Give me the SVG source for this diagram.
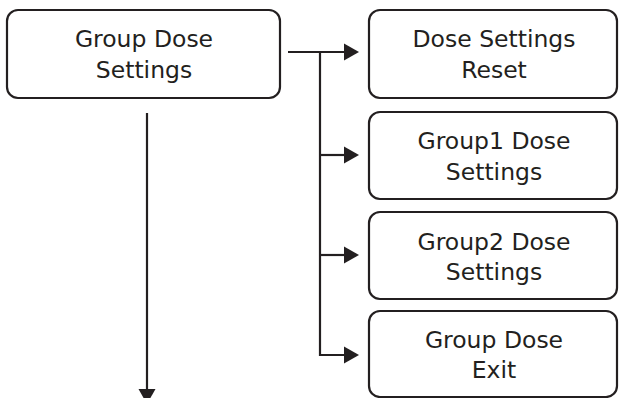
<svg xmlns="http://www.w3.org/2000/svg" width="619" height="398" viewBox="0 0 619 398">
  <style>
    .box { fill: #ffffff; stroke: #231f20; stroke-width: 2.2; }
    .lbl { font-family: "DejaVu Sans", "Liberation Sans", sans-serif; font-size: 23.5px; fill: #231f20; text-anchor: middle; }
    .conn { fill: none; stroke: #231f20; stroke-width: 2.2; }
  </style>
  <defs>
    <marker id="arr" markerUnits="userSpaceOnUse" markerWidth="15" markerHeight="17" refX="2" refY="8.5" orient="auto" overflow="visible">
      <path d="M0,0 L15,8.5 L0,17 z" fill="#231f20"/>
    </marker>
  </defs>
  <rect width="619" height="398" fill="#ffffff"/>

  <g id="connectors">
    <path class="conn" d="M288,52 H346" marker-end="url(#arr)"/>
    <path class="conn" d="M320,52 V355 H346" marker-end="url(#arr)"/>
    <path class="conn" d="M320,155 H346" marker-end="url(#arr)"/>
    <path class="conn" d="M320,255 H346" marker-end="url(#arr)"/>
    <path class="conn" d="M147,113 V391" marker-end="url(#arr)"/>
  </g>

  <g id="group-dose-settings">
    <rect class="box" x="7" y="10" width="273" height="88" rx="11"/>
    <text class="lbl" x="144" y="47">Group Dose</text>
    <text class="lbl" x="144" y="78">Settings</text>
  </g>
  <g id="dose-settings-reset">
    <rect class="box" x="369" y="10" width="248" height="88" rx="11"/>
    <text class="lbl" x="494" y="47">Dose Settings</text>
    <text class="lbl" x="494" y="78">Reset</text>
  </g>
  <g id="group1-dose-settings">
    <rect class="box" x="369" y="112" width="248" height="87" rx="11"/>
    <text class="lbl" x="494" y="149">Group1 Dose</text>
    <text class="lbl" x="494" y="180">Settings</text>
  </g>
  <g id="group2-dose-settings">
    <rect class="box" x="369" y="212" width="248" height="87" rx="11"/>
    <text class="lbl" x="494" y="250">Group2 Dose</text>
    <text class="lbl" x="494" y="280">Settings</text>
  </g>
  <g id="group-dose-exit">
    <rect class="box" x="369" y="311" width="248" height="86" rx="11"/>
    <text class="lbl" x="494" y="348">Group Dose</text>
    <text class="lbl" x="494" y="378">Exit</text>
  </g>
</svg>
